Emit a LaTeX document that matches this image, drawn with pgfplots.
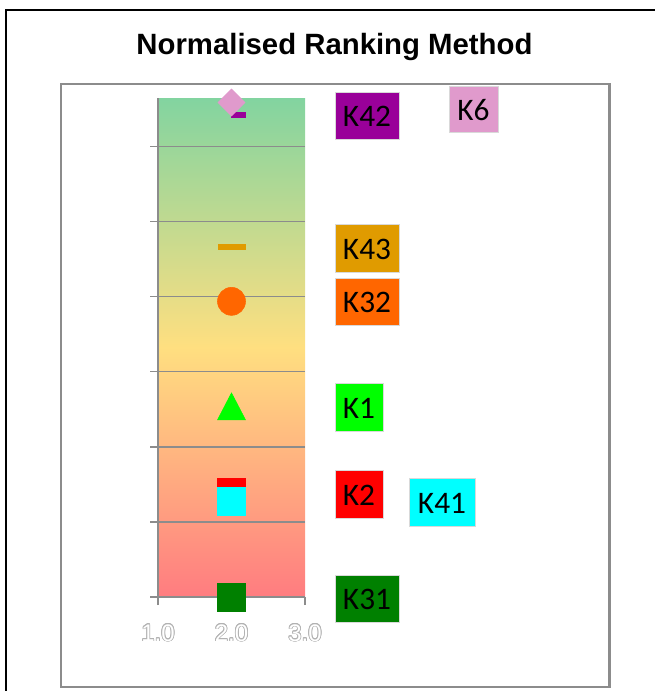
\documentclass[border=0pt]{standalone}
\usepackage{pgfplots}
\pgfplotsset{compat=1.18}
\usepackage{fontspec}
\setmainfont{Liberation Sans}
\newfontfamily\calibri{Carlito}
\usepackage{contour}
\contourlength{0.55pt}
\newcommand\outl[1]{\contour{black!30}{\textcolor{white}{#1}}}
\definecolor{k42}{HTML}{990099}
\definecolor{k6}{HTML}{E09ACC}
\definecolor{k43}{HTML}{E09B00}
\definecolor{k32}{HTML}{FF6600}
\definecolor{k1}{HTML}{00FF00}
\definecolor{k2}{HTML}{FF0000}
\definecolor{k41}{HTML}{00FFFF}
\definecolor{k31}{HTML}{008000}
\definecolor{ctop}{HTML}{82D4A0}
\definecolor{cmid}{HTML}{FFDF80}
\definecolor{cbot}{HTML}{FF7C80}
\definecolor{frame}{HTML}{8C8C8C}
\begin{document}
\begin{tikzpicture}
\useasboundingbox (0,0) rectangle (491.25pt,-518.25pt);
\begin{scope}[x=0.75pt,y=-0.75pt]
  \draw[line width=1.5pt] (5.7,700) -- (5.7,10) -- (700,10);
  \draw[color=frame, line width=1.7pt] (61,84) rectangle (609.5,687);
  \node[font=\bfseries\fontsize{22}{22}\selectfont, anchor=base, inner sep=0pt] at (334.5,55) {Normalised Ranking Method};
\end{scope}
\begin{axis}[
  at={(118.5pt,-447.75pt)}, anchor=south west,
  scale only axis, width=110.25pt, height=374.25pt,
  xmin=1, xmax=3, ymin=0, ymax=6.65,
  clip=false,
  axis x line*=bottom, axis y line*=left,
  axis line style={-, frame, line width=0.9pt},
  axis background/.style={top color=ctop, bottom color=cbot, middle color=cmid},
  xtick={1,2,3},
  xticklabels={\outl{1.0},\outl{2.0},\outl{3.0}},
  ytick={0,1,2,3,4,5,6}, yticklabels={},
  ymajorgrids, grid style={frame, line width=0.9pt},
  tick align=outside, major tick length=6pt,
  tick style={frame, line width=0.9pt},
  xticklabel style={font=\fontsize{18}{18}\selectfont, yshift=-11pt},
]
\addplot[only marks, mark=square*, mark size=10.5pt, color=k31] coordinates {(2,0)};
\addplot[only marks, mark=square*, mark size=10.5pt, color=k2] coordinates {(2,1.39)};
\addplot[only marks, mark=square*, mark size=10.5pt, color=k41] coordinates {(2,1.27)};
\addplot[only marks, mark=triangle*, mark size=13.5pt, mark options={xscale=0.9}, color=k1] coordinates {(2,2.48)};
\addplot[only marks, mark=*, mark size=10.5pt, color=k32] coordinates {(2,3.94)};
\addplot[only marks, mark=-, mark size=10.5pt, mark options={line width=4.5pt}, color=k43] coordinates {(2,4.66)};
\addplot[only marks, mark=-, mark size=5.5pt, mark options={line width=4.5pt, xshift=5pt}, color=k42] coordinates {(2,6.43)};
\addplot[only marks, mark=square*, mark size=7.2pt, mark options={rotate=45}, color=k6] coordinates {(2,6.59)};
\end{axis}
\begin{scope}[x=0.75pt,y=-0.75pt]
  \foreach \xa/\ya/\xb/\yb/\c/\t in {335/92/399/139/k42/K42, 449/86/498/132/k6/K6, 335/224/399/272/k43/K43, 335/278/399/325/k32/K32, 335/383/383/431/k1/K1, 335/470/383/518/k2/K2, 409/478/475/526/k41/K41, 335/575/399/622/k31/K31}{
    \draw[fill=\c, draw=black!15, line width=0.4pt] (\xa,\ya) rectangle (\xb,\yb);
    \node[font=\calibri\fontsize{23.5}{23.5}\selectfont, inner sep=0pt] at ({(\xa+\xb)/2},{(\ya+\yb)/2+1}) {\t};
  }
\end{scope}
\end{tikzpicture}
\end{document}
